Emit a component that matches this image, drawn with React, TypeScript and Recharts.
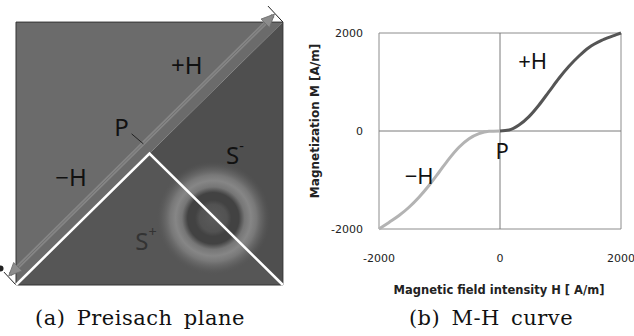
import React from 'react';
import {
  ComposedChart, LineChart, Line, Area, Scatter, XAxis, YAxis, ReferenceArea, ReferenceLine,
} from 'recharts';

// ---- (a) Preisach plane, normalized coordinates 0..1 ----
const planeU = [0, 0.5, 1];
const diagonalV = [0, 0.5, 1];
const upperV = [1, 1, 1];
const splusV = [0, 0.5, 0];

const arrowU = [-0.022, 0.963];
const arrowV = [0.04, 1.025];
const arrowRot = [135, -45];

const tickTopU = [1, 0.944];
const tickTopV = [1, 1.061];
const tickBottomU = [0, -0.058];
const tickBottomV = [0, 0.063];
const tickPU = [0.433, 0.477];
const tickPV = [0.575, 0.537];

const ringU = [0.739];
const ringV = [0.254];

const planeLabelText = ['+H', 'P', '\u2212H', 'S', 'S'];
const planeLabelSup = ['', '', '', '-', '+'];
const planeLabelU = [0.64, 0.395, 0.206, 0.82, 0.487];
const planeLabelV = [0.84, 0.603, 0.414, 0.498, 0.171];
const planeLabelColor = ['#111', '#111', '#111', '#111', '#333'];

// ---- (b) M-H curve ----
const negH = [-2000, -1835, -1669, -1504, -1339, -1174, -1008, -843, -678, -512, -347, -182, 0];
const negM = [-2000, -1865, -1725, -1556, -1352, -1113, -842, -568, -332, -158, -55, -7, 0];
const posH = [0, 149, 314, 479, 645, 810, 975, 1140, 1306, 1471, 1693, 1913, 2000];
const posM = [0, 20, 122, 294, 531, 804, 1076, 1320, 1530, 1705, 1857, 1962, 2000];
const axisTicks = [-2000, 0, 2000];

const curveLabelText = ['+H', 'P', '\u2212H'];
const curveLabelH = [540, 36, -1336];
const curveLabelM = [1443, -394, -904];

const planeData = planeU.map((u, i) => ({
  u,
  upper: [diagonalV[i], upperV[i]],
  lower: [0, diagonalV[i]],
  splus: [0, splusV[i]],
  vee: splusV[i],
}));
const arrowData = arrowU.map((u, i) => ({ u, v: arrowV[i], rot: arrowRot[i] }));
const tickTop = tickTopU.map((u, i) => ({ u, v: tickTopV[i] }));
const tickBottom = tickBottomU.map((u, i) => ({ u, v: tickBottomV[i] }));
const tickP = tickPU.map((u, i) => ({ u, v: tickPV[i] }));
const ringData = ringU.map((u, i) => ({ u, v: ringV[i] }));
const veeData = planeU.map((u, i) => ({ u, v: splusV[i] }));
const planeLabels = planeLabelText.map((text, i) => ({
  u: planeLabelU[i], v: planeLabelV[i], text, sup: planeLabelSup[i], color: planeLabelColor[i],
}));

const negData = negH.map((h, i) => ({ h, m: negM[i] }));
const posData = posH.map((h, i) => ({ h, m: posM[i] }));
const curveLabels = curveLabelText.map((text, i) => ({ h: curveLabelH[i], m: curveLabelM[i], text }));

const labelFont = "'Noto Sans', sans-serif";

const TextShape = (props: any) => {
  const { cx, cy, payload, size } = props;
  return (
    <text x={cx} y={cy} textAnchor="middle" dominantBaseline="central"
      fontSize={size} fontFamily={labelFont} fill={payload.color || '#111'}>
      {payload.text}
      {payload.sup ? <tspan fontSize={size * 0.6} dy={-9}>{payload.sup}</tspan> : null}
    </text>
  );
};

const ArrowHead = (props: any) => {
  const { cx, cy, payload } = props;
  return (
    <polygon points="2,0 -11,-6 -11,6" fill="#8c8c8c" stroke="#6e6e6e" strokeWidth={0.8}
      transform={`translate(${cx} ${cy}) rotate(${payload.rot})`} />
  );
};

const Ring = (props: any) => {
  const { cx, cy } = props;
  return (
    <g>
      <defs>
        <radialGradient id="ringGrad">
          <stop offset="0%" stopColor="#5a5a5a" />
          <stop offset="24%" stopColor="#525252" />
          <stop offset="32%" stopColor="#424242" />
          <stop offset="45%" stopColor="#424242" />
          <stop offset="55%" stopColor="#767676" />
          <stop offset="66%" stopColor="#868686" />
          <stop offset="76%" stopColor="#787878" />
          <stop offset="88%" stopColor="#666666" stopOpacity={0.6} />
          <stop offset="100%" stopColor="#555555" stopOpacity={0} />
        </radialGradient>
      </defs>
      <circle cx={cx} cy={cy} r={57} fill="url(#ringGrad)" />
    </g>
  );
};

const NoDot = () => <g />;

function PreisachPlane() {
  return (
    <ComposedChart width={300} height={300} data={planeData} margin={{ top: 0, right: 0, bottom: 0, left: 0 }}>
      <XAxis type="number" dataKey="u" domain={[-0.06, 1.064]} hide />
      <YAxis type="number" domain={[-0.057, 1.084]} hide />
      <Area dataKey="upper" type="linear" fill="#6b6b6b" fillOpacity={1} stroke="none" isAnimationActive={false} />
      <Area dataKey="lower" type="linear" fill="#4f4f4f" fillOpacity={1} stroke="none" isAnimationActive={false} />
      <Area dataKey="splus" type="linear" fill="#565656" fillOpacity={1} stroke="none" isAnimationActive={false} />
      <ReferenceArea x1={0} x2={1} y1={0} y2={1} fill="none" stroke="#333" strokeWidth={1} />
      <Line data={arrowData} dataKey="v" type="linear" stroke="#858585" strokeWidth={4} dot={false} isAnimationActive={false} />
      <Line data={arrowData} dataKey="v" type="linear" stroke="#727272" strokeWidth={1} dot={false} isAnimationActive={false} />
      <Line data={tickTop} dataKey="v" type="linear" stroke="#222" strokeWidth={1} dot={false} isAnimationActive={false} />
      <Line data={tickBottom} dataKey="v" type="linear" stroke="#222" strokeWidth={1} dot={false} isAnimationActive={false} />
      <Line data={tickP} dataKey="v" type="linear" stroke="#222" strokeWidth={1} dot={false} isAnimationActive={false} />
      <Scatter data={ringData} dataKey="v" shape={Ring} isAnimationActive={false} />
      <Scatter data={veeData} dataKey="v" shape={NoDot} line={{ stroke: '#ffffff', strokeWidth: 2.5 }}
        lineType="joint" isAnimationActive={false} />
      <Scatter data={arrowData} dataKey="v" shape={ArrowHead} isAnimationActive={false} />
      <Scatter data={planeLabels} dataKey="v" shape={(p: any) => <TextShape {...p} size={24} />} isAnimationActive={false} />
    </ComposedChart>
  );
}

function MHCurve() {
  const tickStyle = { fontSize: 11, fill: '#222', fontFamily: "'DejaVu Sans', sans-serif" };
  const titleStyle = { fontWeight: 'bold' as const, fill: '#222', fontFamily: "'DejaVu Sans', sans-serif" };
  return (
    <LineChart width={334} height={336} margin={{ top: 33, right: 13, bottom: 77, left: 20 }}>
      <XAxis type="number" dataKey="h" domain={[-2000, 2000]} ticks={axisTicks} tickLine={false} tickSize={0}
        axisLine={false} tickMargin={25} height={30} tick={tickStyle}
        label={{ content: () => <text x={199} y={290} textAnchor="middle" dominantBaseline="central" fontSize={11.5} {...titleStyle}>Magnetic field intensity H [ A/m]</text> }} />
      <YAxis type="number" domain={[-2000, 2000]} ticks={axisTicks} tickLine={false} tickSize={0}
        axisLine={false} tickMargin={16} width={59} tick={tickStyle}
        label={{ content: () => <text x={15} y={121} textAnchor="middle" dominantBaseline="central" transform="rotate(-90 15 121)" fontSize={12} {...titleStyle}>Magnetization M [A/m]</text> }} />
      <ReferenceArea x1={-2000} x2={2000} y1={-2000} y2={2000} fill="none" stroke="#8c8c8c" strokeWidth={1} />
      <ReferenceLine x={0} stroke="#7a7a7a" strokeWidth={1} />
      <ReferenceLine y={0} stroke="#7a7a7a" strokeWidth={1} />
      <Line data={negData} dataKey="m" type="monotone" stroke="#b3b3b3" strokeWidth={3} dot={false} isAnimationActive={false} />
      <Line data={posData} dataKey="m" type="monotone" stroke="#555555" strokeWidth={3} dot={false} isAnimationActive={false} />
      <Scatter data={curveLabels} dataKey="m" shape={(p: any) => <TextShape {...p} size={22} />} isAnimationActive={false} />
    </LineChart>
  );
}

const captionStyle: React.CSSProperties = {
  position: 'absolute', width: 300, textAlign: 'center', top: 308, lineHeight: '20px',
  fontFamily: "'DejaVu Serif', serif", fontSize: 21, color: '#111', whiteSpace: 'nowrap',
  letterSpacing: 0.5, wordSpacing: 4,
};

export default function App() {
  return (
    <div style={{ position: 'absolute', left: 0, top: 0, width: 634, height: 336, background: '#fff', overflow: 'hidden' }}>
      <div style={{ position: 'absolute', left: 0, top: 0 }}>
        <PreisachPlane />
      </div>
      <div style={{ position: 'absolute', left: 300, top: 0 }}>
        <MHCurve />
      </div>
      <div style={{ ...captionStyle, left: -10 }}>(a) Preisach plane</div>
      <div style={{ ...captionStyle, left: 341 }}>(b) M-H curve</div>
    </div>
  );
}
